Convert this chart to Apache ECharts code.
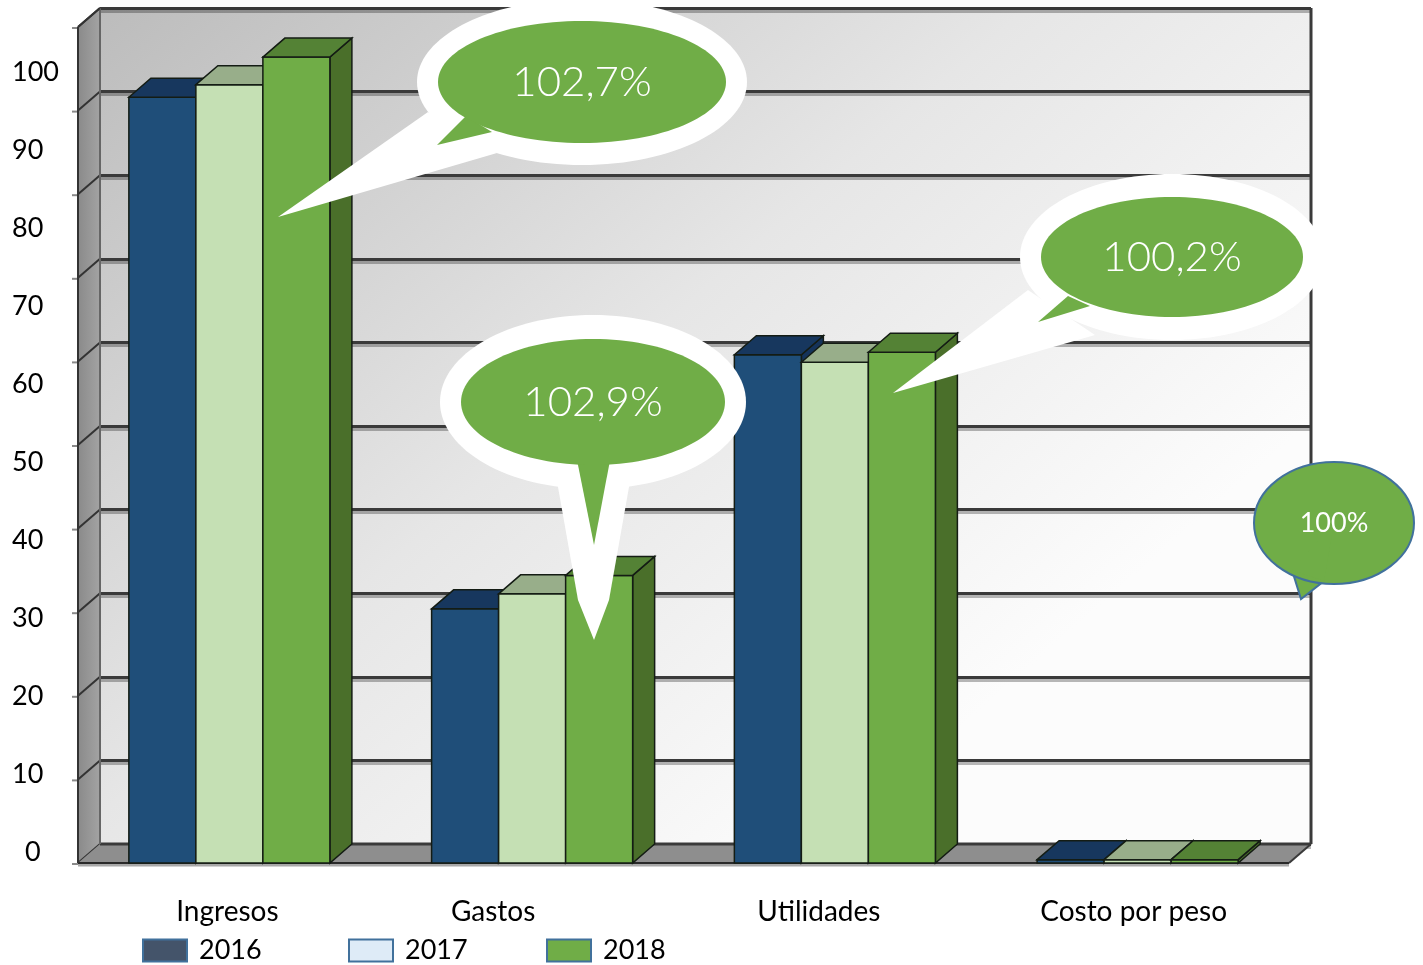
<!DOCTYPE html>
<html>
<head>
<meta charset="utf-8">
<script src="https://cdn.jsdelivr.net/npm/echarts@6/dist/echarts.min.js"></script>
<style>
html,body{margin:0;padding:0;background:#fff;}
#chart{width:1423px;height:965px;}
</style>
</head>
<body>
<div id="chart"></div>
<script>
// ---- data ----
const categories = ['Ingresos', 'Gastos', 'Utilidades', 'Costo por peso'];
const years = ['2016', '2017', '2018'];
const values2016 = [91.6, 30.4, 60.8, 0.4];
const values2017 = [93.1, 32.2, 59.9, 0.4];
const values2018 = [96.4, 34.4, 61.1, 0.4];
const yTicks = [0, 10, 20, 30, 40, 50, 60, 70, 80, 90, 100];
const calloutTexts = ['102,7%', '102,9%', '100,2%', '100%'];

// ---- layout / style ----
const FONT = 'Lato, "Noto Sans", sans-serif';
const DX = 22, DY = -19;
const GAP = 0.336;
const labelShift = [2, 39, 16, 4]; // px to move category labels left
const barColors = [
  {front: '#1F4E79', top: '#17375E', side: '#15335A'},
  {front: '#C5E0B4', top: '#98AE8A', side: '#98AE8A'},
  {front: '#70AD47', top: '#548235', side: '#4A6F2A'}
];
const legendColors = ['#44546A', '#DEEBF7', '#70AD47'];
const legendLeft = [142, 348, 546];
const seriesValues = [values2016, values2017, values2018];

function makeBarRenderer(sIdx) {
  const c = barColors[sIdx];
  return function (params, api) {
    const cat = api.value(0), val = api.value(1);
    const base = api.coord([cat, 0]);
    const top = api.coord([cat, val]);
    const band = api.size([1, 0])[0];
    const bw = band * (1 - GAP) / 3;
    const x0 = base[0] - 1.5 * bw + sIdx * bw;
    const x1 = x0 + bw;
    const yb = base[1], yt = top[1];
    const stroke = '#141c14';
    return {
      type: 'group',
      children: [
        {type: 'polygon', shape: {points: [[x1, yt], [x1 + DX, yt + DY], [x1 + DX, yb + DY], [x1, yb]]},
          style: {fill: c.side, stroke: stroke, lineWidth: 1.5}},
        {type: 'rect', shape: {x: x0, y: yt, width: bw, height: yb - yt},
          style: {fill: c.front, stroke: stroke, lineWidth: 1.5}},
        {type: 'polygon', shape: {points: [[x0, yt], [x0 + DX, yt + DY], [x1 + DX, yt + DY], [x1, yt]]},
          style: {fill: c.top, stroke: stroke, lineWidth: 1.5}}
      ]
    };
  };
}

function renderWalls(params, api) {
  const cs = params.coordSys;
  const L = cs.x, R = cs.x + cs.width, T = cs.y, B = cs.y + cs.height;
  const ch = [];
  ch.push({type: 'polygon', shape: {points: [[L, T], [L + DX, T + DY], [L + DX, B + DY], [L, B]]},
    style: {fill: new echarts.graphic.LinearGradient(0, 0, 1, 0, [{offset: 0, color: '#8a8a8a'}, {offset: 1, color: '#a3a3a3'}])}});
  yTicks.forEach(function (t) {
    const y = api.coord([0, t])[1];
    ch.push({type: 'line', shape: {x1: L, y1: y, x2: L + DX, y2: y + DY}, style: {stroke: '#333', lineWidth: 2}});
    ch.push({type: 'line', shape: {x1: L - 6, y1: y + 1, x2: L, y2: y + 1}, style: {stroke: '#8a8a8a', lineWidth: 2}});
  });
  ch.push({type: 'polygon', shape: {points: [[L, B], [L + DX, B + DY], [R + DX, B + DY], [R, B]]},
    style: {fill: '#8e8e8e'}});
  ch.push({type: 'line', shape: {x1: L + DX, y1: B + DY, x2: R + DX, y2: B + DY}, style: {stroke: '#3a3a3a', lineWidth: 3}});
  ch.push({type: 'line', shape: {x1: L, y1: B + 2, x2: R, y2: B + 2}, style: {stroke: '#a8a8a8', lineWidth: 3}});
  ch.push({type: 'line', shape: {x1: L, y1: B, x2: R, y2: B}, style: {stroke: '#2a2a2a', lineWidth: 2}});
  ch.push({type: 'line', shape: {x1: R, y1: B, x2: R + DX, y2: B + DY}, style: {stroke: '#3a3a3a', lineWidth: 2}});
  ch.push({type: 'line', shape: {x1: L, y1: T, x2: L, y2: B}, style: {stroke: '#333', lineWidth: 2}});
  ch.push({type: 'line', shape: {x1: L + DX, y1: T + DY, x2: L + DX, y2: B + DY}, style: {stroke: '#666', lineWidth: 2}});
  ch.push({type: 'line', shape: {x1: L, y1: T, x2: L + DX, y2: T + DY}, style: {stroke: '#333', lineWidth: 2}});
  ch.push({type: 'line', shape: {x1: R + DX, y1: T + DY, x2: R + DX, y2: B + DY}, style: {stroke: '#3a3a3a', lineWidth: 3}});
  return {type: 'group', children: ch};
}

const chart = echarts.init(document.getElementById('chart'), null, {renderer: 'canvas'});

const series = [{
  type: 'custom', name: 'walls', xAxisIndex: 0, yAxisIndex: 0, z: 1, clip: false,
  renderItem: renderWalls, data: [[0, 0]], silent: true
}];
years.forEach(function (y, i) {
  series.push({
    type: 'custom', name: y, xAxisIndex: 0, yAxisIndex: 0, z: 2 + i, clip: false,
    renderItem: makeBarRenderer(i), encode: {x: 0, y: 1},
    itemStyle: {color: legendColors[i]},
    data: seriesValues[i].map(function (v, k) { return [k, v]; })
  });
});

function bubble(cx, cy, rx, ry, ring, whiteTail, greenTail, text, fs, border) {
  const els = [];
  if (ring) {
    els.push({type: 'ellipse', shape: {cx: cx, cy: cy, rx: rx + ring[0], ry: ry + ring[1]}, style: {fill: '#fff'}, z: 100});
    els.push({type: 'polygon', shape: {points: whiteTail}, style: {fill: '#fff'}, z: 100});
  }
  els.push({type: 'polygon', shape: {points: greenTail}, style: {fill: '#70AD47', stroke: border || null, lineWidth: border ? 2 : 0}, z: 101});
  els.push({type: 'ellipse', shape: {cx: cx, cy: cy, rx: rx, ry: ry}, style: {fill: '#70AD47', stroke: border || null, lineWidth: border ? 2 : 0}, z: 102});
  if (border) {
    els.push({type: 'polygon', shape: {points: [greenTail[0], greenTail[1], [cx, cy]]}, style: {fill: '#70AD47'}, z: 103});
  }
  els.push({type: 'text', x: cx, y: cy, style: {text: text, fill: '#fff', fontSize: fs, fontWeight: fs > 30 ? 300 : 'normal', fontFamily: FONT, align: 'center', verticalAlign: 'middle'}, z: 104});
  return els;
}

const graphics = [].concat(
  bubble(582, 82, 144, 61, [21, 22], [[428, 112], [497, 153], [278, 217]], [[466, 116], [492, 132], [437, 145]], calloutTexts[0], 42),
  bubble(593, 402, 132, 63, [21, 24], [[555, 470], [632, 470], [609, 600], [594, 640], [578, 600]], [[576, 455], [611, 455], [594, 545]], calloutTexts[1], 42),
  bubble(1172, 257, 131, 60, [21, 23], [[1028, 290], [1095, 335], [893, 393]], [[1068, 296], [1090, 306], [1038, 322]], calloutTexts[2], 42),
  bubble(1334, 523, 80, 61, null, null, [[1292, 570], [1324, 581], [1301, 599]], calloutTexts[3], 27, '#41719C')
);

const option = {
  animation: false,
  backgroundColor: '#fff',
  grid: [
    {left: 78, top: 27, width: 1211, height: 836, show: false},
    {left: 100, top: 8, width: 1211, height: 836, show: true, borderWidth: 0,
      backgroundColor: new echarts.graphic.LinearGradient(0, 0, 0.6, 1, [{offset: 0, color: '#bcbcbc'}, {offset: 0.55, color: '#e6e6e6'}, {offset: 1, color: '#fcfcfc'}])},
    {left: 60, top: 72, width: 10, height: 780, show: false}
  ],
  xAxis: [
    {type: 'category', gridIndex: 0, boundaryGap: true,
      data: categories.map(function (c, i) { return {value: c, textStyle: {padding: [0, labelShift[i] * 2, 0, 0]}}; }),
      axisLine: {show: false}, axisTick: {show: false}, splitLine: {show: false},
      axisLabel: {fontSize: 28, fontFamily: FONT, color: '#000', margin: 35, interval: 0}},
    {type: 'value', gridIndex: 1, show: false},
    {type: 'value', gridIndex: 2, show: false}
  ],
  yAxis: [
    {type: 'value', gridIndex: 0, min: 0, max: 100, interval: 10, show: false},
    {type: 'value', gridIndex: 1, min: 0, max: 100, interval: 10,
      axisLine: {show: false}, axisTick: {show: false}, axisLabel: {show: false},
      splitLine: {show: true, lineStyle: {color: '#3a3a3a', width: 3, shadowColor: 'rgba(0,0,0,0.28)', shadowOffsetY: 3, shadowBlur: 0}}},
    {type: 'value', gridIndex: 2, min: 0, max: 100, interval: 10,
      axisLine: {show: false}, axisTick: {show: false}, splitLine: {show: false},
      axisLabel: {align: 'left', margin: 48, color: '#000',
        formatter: function (v) { return v === 0 ? '{z|0}' : '{n|' + v + '}'; },
        rich: {
          z: {fontSize: 27, fontFamily: FONT, color: '#000', padding: [0, 0, 0, 13]},
          n: {fontSize: 27, fontFamily: FONT, color: '#000'}
        }}}
  ],
  legend: years.map(function (y, i) {
    return {
      left: legendLeft[i], top: 937, padding: 0, itemWidth: 44, itemHeight: 22, icon: 'rect',
      selectedMode: false,
      textStyle: {fontSize: 27, fontFamily: FONT, color: '#000', padding: [0, 0, 0, 7]},
      data: [{name: y, icon: 'rect', itemStyle: {color: legendColors[i], borderColor: '#41719C', borderWidth: 2}}]
    };
  }),
  series: series,
  graphic: graphics
};
chart.setOption(option);
</script>
</body>
</html>
